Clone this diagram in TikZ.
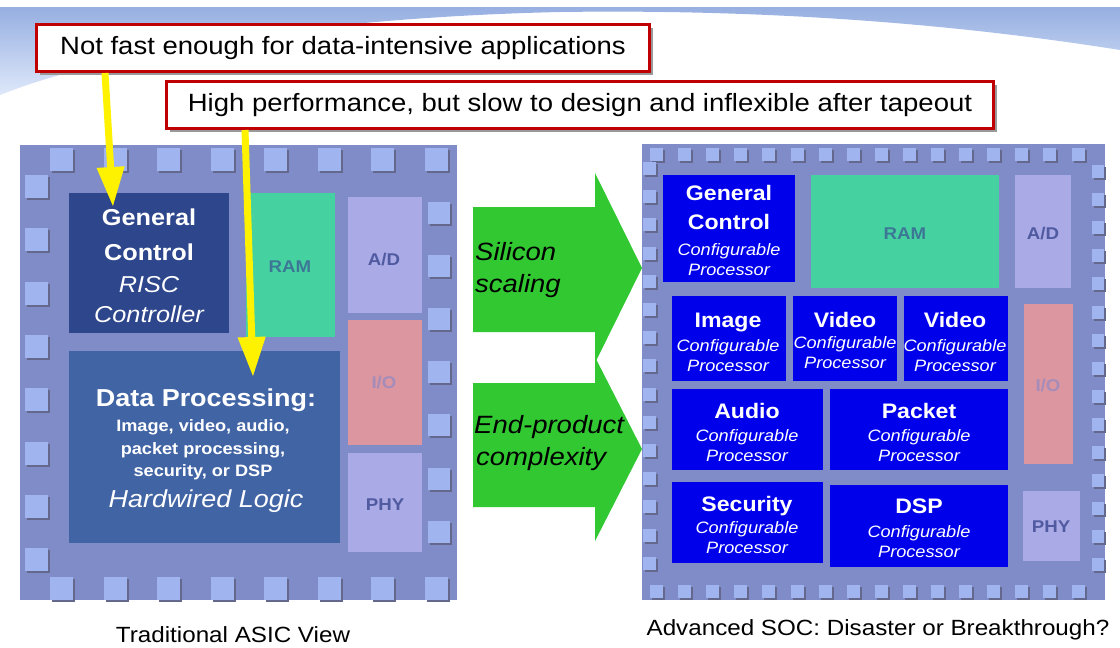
\documentclass[tikz,border=0pt]{standalone}
\usepackage{fontspec}
\setmainfont[FakeStretch=1.1]{Liberation Sans}
\usetikzlibrary{arrows.meta,shadows}
\definecolor{chipc}{RGB}{128,140,200}
\definecolor{padc}{RGB}{160,180,240}
\definecolor{padsh}{RGB}{100,104,140}
\definecolor{gcl}{RGB}{45,70,140}
\definecolor{dpl}{RGB}{65,100,165}
\definecolor{ramc}{RGB}{70,210,160}
\definecolor{lav}{RGB}{170,170,230}
\definecolor{pinkc}{RGB}{220,150,160}
\definecolor{procb}{RGB}{0,0,235}
\definecolor{greenA}{RGB}{50,200,50}
\definecolor{redb}{RGB}{192,0,0}
\definecolor{ramt}{RGB}{60,120,150}
\definecolor{lavt}{RGB}{80,90,160}
\definecolor{iot}{RGB}{165,140,185}
\definecolor{swA}{RGB}{150,175,225}
\definecolor{swB}{RGB}{222,232,250}
\newcommand\blk[6]{\node[box,fill=#2,minimum width=#5pt,minimum height=#6pt] (#1) at (#3,#4) {};}
\newcommand\tx[5]{\node[#1,anchor=base,inner sep=0pt] (#2) at (#3,#4) {#5};}
\begin{document}
\begin{tikzpicture}[x=1pt,y=-1pt,
  box/.style={inner sep=0pt,outer sep=0pt,anchor=north west},
  callout/.style={draw=redb,line width=3pt,fill=white,inner sep=0pt,anchor=north west,
    font=\fontsize{25}{30}\selectfont,
    drop shadow={shadow xshift=3pt,shadow yshift=-3pt,fill=black!40,opacity=1}},
  yarrow/.style={draw=yellow,line width=7pt,-{Triangle[width=26pt,length=40pt]}},
  ltitle/.style={text=white,font=\bfseries\fontsize{23}{28}\selectfont},
  lsub/.style={text=white,font=\itshape\fontsize{23}{28}\selectfont},
  dptitle/.style={text=white,font=\bfseries\fontsize{24.5}{28}\selectfont},
  dpsmall/.style={text=white,font=\bfseries\fontsize{16.5}{20}\selectfont},
  dpital/.style={text=white,font=\itshape\fontsize{24.5}{28}\selectfont},
  lblram/.style={text=ramt,font=\bfseries\fontsize{17}{20}\selectfont},
  lbllav/.style={text=lavt,font=\bfseries\fontsize{17}{20}\selectfont},
  lblio/.style={text=iot,font=\bfseries\fontsize{17}{20}\selectfont},
  rtitle/.style={text=white,font=\bfseries\fontsize{21}{25}\selectfont},
  rsub/.style={text=white,font=\itshape\fontsize{16.5}{20}\selectfont},
  arrtext/.style={text=black,font=\itshape\fontsize{25}{30}\selectfont},
  caption/.style={text=black,font=\fontsize{22}{26}\selectfont}
]
\useasboundingbox (0,0) rectangle (1120,648);
\fill[white] (0,0) rectangle (1120,648);
% background swoosh
\shade[top color=swA,bottom color=swB] (0,7) -- (1120,7) -- (1120,50)
  .. controls (900,15) and (700,10) .. (560,12)
  .. controls (300,18) and (100,55) .. (0,95) -- cycle;

% ---------------- left chip ----------------
\blk{chipL}{chipc}{20}{145}{437}{455}
\foreach \i in {0,...,7}{
  \fill[padsh] ({52+53.5*\i},150) rectangle ++(23,23);
  \fill[padc] ({50+53.5*\i},148) rectangle ++(23,23);
  \fill[padsh] ({52+53.5*\i},579) rectangle ++(23,23);
  \fill[padc] ({50+53.5*\i},577) rectangle ++(23,23);
  \fill[padsh] (27,{177+53.3*\i}) rectangle ++(23,23);
  \fill[padc] (25,{175+53.3*\i}) rectangle ++(23,23);
}
\foreach \i in {0,...,6}{
  \fill[padsh] (430,{204+53.1*\i}) rectangle ++(22,22);
  \fill[padc] (428,{202+53.1*\i}) rectangle ++(22,22);
}
\blk{gcL}{gcl}{69}{193}{160}{140}
\blk{ramL}{ramc}{246}{193}{89}{144}
\blk{adL}{lav}{348}{197}{74}{116}
\blk{ioL}{pinkc}{348}{320}{74}{125}
\blk{phyL}{lav}{348}{453}{74}{99}
\blk{dpL}{dpl}{69}{351}{271}{192}
\tx{ltitle}{gcL1}{149}{225}{General}
\tx{ltitle}{gcL2}{149}{260}{Control}
\tx{lsub}{gcL3}{149}{292}{RISC}
\tx{lsub}{gcL4}{149}{322}{Controller}
\tx{lblram}{ramLt}{290}{272}{RAM}
\tx{lbllav}{adLt}{384}{265}{A/D}
\tx{lblio}{ioLt}{384}{388}{I/O}
\tx{lbllav}{phyLt}{385}{510}{PHY}
\tx{dptitle}{dpL1}{206}{406}{Data Processing:}
\tx{dpsmall}{dpL2}{203}{431}{Image, video, audio,}
\tx{dpsmall}{dpL3}{203}{454}{packet processing,}
\tx{dpsmall}{dpL4}{203}{476}{security, or DSP}
\tx{dpital}{dpL5}{206}{507}{Hardwired Logic}

% ---------------- green arrows ----------------
\fill[greenA] (473,207) -- (595,207) -- (595,173) -- (642,268) -- (595,363)
  -- (595,332) -- (473,332) -- cycle;
\fill[greenA] (473,383) -- (595,383) -- (595,357) -- (642,449) -- (595,541)
  -- (595,507) -- (473,507) -- cycle;
\node[arrtext,anchor=base west,inner sep=0pt] (ga1) at (475,260) {Silicon};
\node[arrtext,anchor=base west,inner sep=0pt] (ga2) at (475,292) {scaling};
\node[arrtext,anchor=base west,inner sep=0pt] (ga3) at (474,433) {End-product};
\node[arrtext,anchor=base west,inner sep=0pt] (ga4) at (476,465) {complexity};

% ---------------- right chip ----------------
\blk{chipR}{chipc}{642}{144}{463}{456}
\foreach \i in {0,...,15}{
  \fill[padsh] ({652+28.1*\i},150) rectangle ++(13,13);
  \fill[padc] ({650+28.1*\i},148) rectangle ++(13,13);
  \fill[padsh] ({652+28.1*\i},587) rectangle ++(13,13);
  \fill[padc] ({650+28.1*\i},585) rectangle ++(13,13);
}
\foreach \i in {0,...,14}{
  \fill[padsh] (645,{164+28.2*\i}) rectangle ++(13,13);
  \fill[padc] (643,{162+28.2*\i}) rectangle ++(13,13);
  \fill[padsh] (1094,{167+28.1*\i}) rectangle ++(12,13);
  \fill[padc] (1092,{165+28.1*\i}) rectangle ++(12,13);
}
\blk{gcR}{procb}{663}{175}{132}{107}
\blk{ramR}{ramc}{811}{175}{188}{113}
\blk{adR}{lav}{1015}{175}{56}{113}
\blk{imgR}{procb}{672}{296}{114}{85}
\blk{vidaR}{procb}{793}{296}{104}{85}
\blk{vidbR}{procb}{904}{296}{104}{85}
\blk{ioR}{pinkc}{1024}{304}{49}{160}
\blk{audR}{procb}{672}{389}{151}{81}
\blk{pktR}{procb}{830}{389}{178}{81}
\blk{secR}{procb}{672}{482}{151}{81}
\blk{dspR}{procb}{830}{485}{178}{82}
\blk{phyR}{lav}{1023}{491}{57}{70}

\tx{rtitle}{gcR1}{729}{200}{General}
\tx{rtitle}{gcR2}{729}{229}{Control}
\tx{rsub}{gcR3}{729}{255}{Configurable}
\tx{rsub}{gcR4}{729}{275}{Processor}
\tx{lblram}{ramRt}{905}{239}{RAM}
\tx{lbllav}{adRt}{1043}{239}{A/D}
\tx{rtitle}{imgR1}{728}{327}{Image}
\tx{rsub}{imgR2}{728}{351}{Configurable}
\tx{rsub}{imgR3}{728}{371}{Processor}
\tx{rtitle}{vidaR1}{845}{327}{Video}
\tx{rsub}{vidaR2}{845}{348}{Configurable}
\tx{rsub}{vidaR3}{845}{368}{Processor}
\tx{rtitle}{vidbR1}{955}{327}{Video}
\tx{rsub}{vidbR2}{955}{351}{Configurable}
\tx{rsub}{vidbR3}{955}{371}{Processor}
\tx{lblio}{ioRt}{1048}{391}{I/O}
\tx{rtitle}{audR1}{747}{418}{Audio}
\tx{rsub}{audR2}{747}{441}{Configurable}
\tx{rsub}{audR3}{747}{461}{Processor}
\tx{rtitle}{pktR1}{919}{418}{Packet}
\tx{rsub}{pktR2}{919}{441}{Configurable}
\tx{rsub}{pktR3}{919}{461}{Processor}
\tx{rtitle}{secR1}{747}{511}{Security}
\tx{rsub}{secR2}{747}{533}{Configurable}
\tx{rsub}{secR3}{747}{553}{Processor}
\tx{rtitle}{dspR1}{919}{513}{DSP}
\tx{rsub}{dspR2}{919}{537}{Configurable}
\tx{rsub}{dspR3}{919}{557}{Processor}
\tx{lbllav}{phyRt}{1051}{532}{PHY}

% ---------------- yellow arrows and callouts ----------------
\node[callout,minimum width=613pt,minimum height=47pt] (c1) at (35,23)
  {Not fast enough for data-intensive applications};
\node[callout,minimum width=827pt,minimum height=47pt] (c2) at (165,80)
  {High performance, but slow to design and inflexible after tapeout};
\draw[yarrow] ([xshift=70pt]c1.south west) -- ([xshift=44pt,yshift=-14pt]gcL.north west);
\draw[yarrow] ([xshift=80pt]c2.south west) -- ([xshift=184pt,yshift=-26pt]dpL.north west);

% ---------------- captions ----------------
\tx{caption}{capL}{233}{642}{Traditional ASIC View}
\tx{caption}{capR}{878}{635}{Advanced SOC: Disaster or Breakthrough?}
\end{tikzpicture}
\end{document}
